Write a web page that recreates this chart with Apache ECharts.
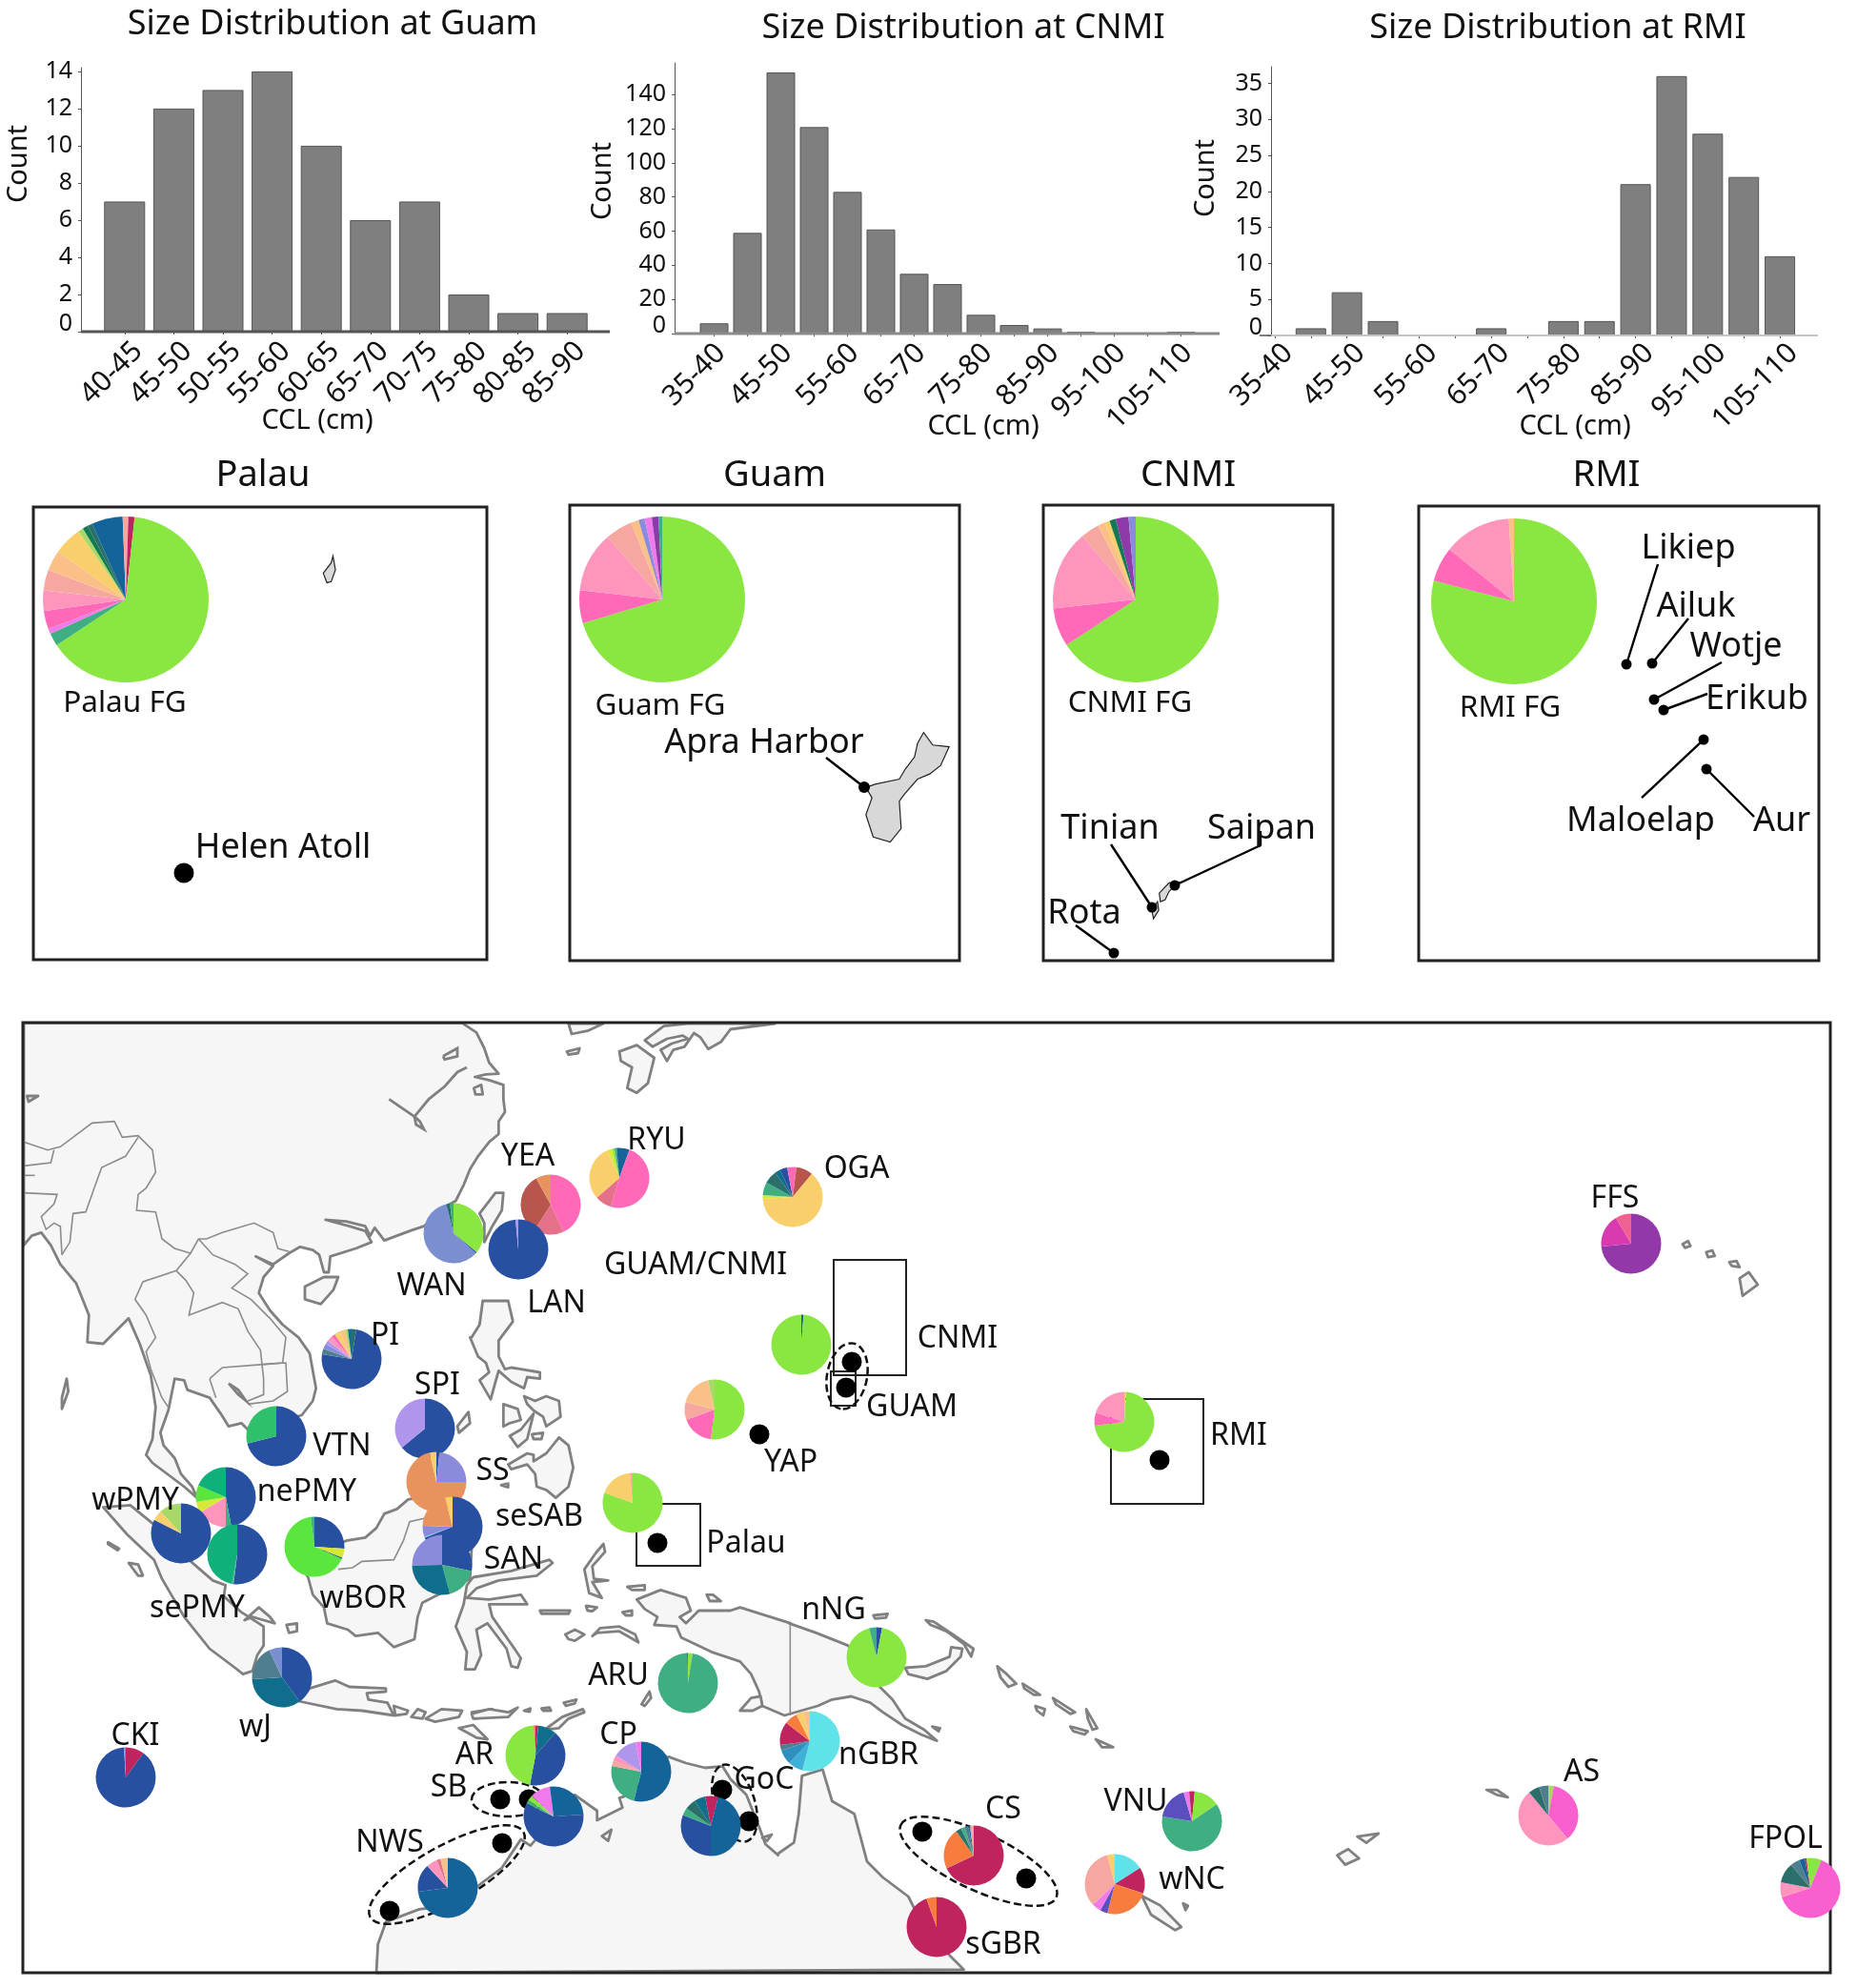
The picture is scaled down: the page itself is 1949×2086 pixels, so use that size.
<!DOCTYPE html>
<html>
<head>
<meta charset="utf-8">
<title>Size distribution and stock composition</title>
<script src="https://cdn.jsdelivr.net/npm/echarts@6/dist/echarts.min.js"></script>
<style>
html,body{margin:0;padding:0;background:#fff}
#chart{width:1949px;height:2086px}
</style>
</head>
<body>
<div id="chart"></div>
<script>
// ---- size histograms
var guamBins = ['40-45','45-50','50-55','55-60','60-65','65-70','70-75','75-80','80-85','85-90'];
var guamCounts = [7,12,13,14,10,6,7,2,1,1];
var cnmiBins = ['35-40','40-45','45-50','50-55','55-60','60-65','65-70','70-75','75-80','80-85','85-90','90-95','95-100','100-105','105-110'];
var cnmiCounts = [6,59,153,121,83,61,35,29,11,5,3,1,0,0,1];
var rmiBins = cnmiBins;
var rmiCounts = [0,1,6,2,0,0,1,0,2,2,21,36,28,22,11];

// ---- haplotype colours
var C = {
    lime:'#8ae640', hot:'#ff69b8', lpink:'#ff94bc', salmon:'#f5a7a0', peach:'#fbc088', yellow:'#f9cf6b',
    navy:'#2850a0', blue:'#14649a', teal:'#0f6e8c', sea:'#3fae82', emerald:'#0fb07a', purple:'#8e3aa8',
    peri:'#8b8bdb', lav:'#b095ec', orange:'#e8925e', crimson:'#c0245e', cyan:'#5fe3e8', coral:'#f97c3f',
    slate:'#7b8fd0', dteal:'#2a6f6a', dgreen:'#117a52', violet:'#f07aec', magenta:'#fa5fd0', rose:'#e4708a',
    brown:'#b8554d', ygreen:'#d8e83a', bgreen:'#5ae63c', lgreen:'#a8d868', steel:'#4f7f8f', sky:'#3fb0d8',
    mid:'#2f90c0', indigo:'#5b4fc0', dkmag:'#d83ab0', grape:'#9338a8', pinkr:'#f06090', egreen:'#2ec06a'
};

// ---- foraging ground pies
var palauFG = [['salmon',.5],['crimson',1.2],['lime',63.6],['sea',2.5],['violet',1],['hot',3.5],['lpink',4],['salmon',4],['peach',4],['yellow',5.5],['lgreen',1],['dgreen',1],['dteal',1],['blue',6],['salmon',.6]];
var guamFG = [['lime',70],['hot',6.4],['lpink',11.7],['salmon',5.3],['peach',1.5],['peri',1.2],['violet',1.4],['purple',1.3],['sea',.7]];
var cnmiFG = [['lime',65.6],['hot',7.5],['lpink',15.6],['salmon',3.6],['peach',1.4],['yellow',1],['dgreen',1.2],['purple',2.5],['peri',1.4]];
var rmiFG = [['lime',79],['hot',6.8],['lpink',13.2],['peach',1]];

// ---- rookery pies on the map
var WAN = [['lime',36],['navy',.7],['slate',59.4],['dteal',2],['sea',1.9]];
var YEA = [['hot',43],['rose',16],['brown',33],['orange',8]];
var RYU = [['blue',5.5],['hot',49],['rose',9],['yellow',30],['ygreen',2.5],['lime',1.4],['sea',1.2],['blue',1.4]];
var OGA = [['hot',2],['brown',9],['yellow',63],['ygreen',2],['sea',7],['dteal',7],['teal',3],['navy',4],['hot',3]];
var LAN = [['navy',98.5],['lav',1.5]];
var PI = [['dteal',2.5],['navy',75],['steel',3],['peri',3],['lav',2],['lpink',3],['hot',2],['yellow',3],['peach',3],['lgreen',1.5],['teal',2]];
var GUAMCNMI = [['blue',1.2],['lime',98.8]];
var YAPpie = [['lime',52],['hot',17.5],['salmon',9.5],['peach',17.5],['lgreen',3.5]];
var VTN = [['navy',71],['egreen',29]];
var SPI = [['navy',64],['lav',36]];
var SS = [['navy',1.7],['peri',23.3],['orange',71.4],['yellow',3.6]];
var nePMY = [['navy',47],['sea',3],['lpink',16.5],['ygreen',6],['bgreen',9],['emerald',18.5]];
var wPMY = [['navy',82.5],['yellow',5.5],['lgreen',12]];
var sePMY = [['navy',52],['sea',1],['emerald',47]];
var wBOR = [['navy',26],['ygreen',5],['dteal',.8],['bgreen',66.2],['sea',2]];
var seSAB = [['navy',69],['cyan',.5],['peri',6],['orange',20.5],['yellow',4]];
var SAN = [['navy',28.3],['sea',17.5],['teal',29],['peri',25.2]];
var PalauPie = [['lime',80.5],['yellow',18],['salmon',1.5]];
var wJ = [['navy',40],['teal',34],['steel',19],['slate',7]];
var CKI = [['crimson',10],['navy',89],['slate',1]];
var ARU = [['lime',2.5],['sea',97],['dteal',.5]];
var nNG = [['navy',3],['lime',93],['sea',4]];
var AR = [['crimson',1.5],['teal',10],['navy',41.5],['lime',46],['coral',1]];
var CP = [['blue',54],['sea',24],['salmon',3],['lpink',3],['lav',13],['violet',3]];
var nGBR = [['cyan',54],['sky',8],['mid',8],['steel',3],['crimson',12.5],['coral',7],['yellow',4],['peach',3.5]];
var SBpie = [['blue',24],['navy',58],['sea',2],['lime',3],['violet',11],['blue',2]];
var GoCpie = [['crimson',4],['blue',46],['navy',31],['sea',4],['dteal',6],['teal',6],['crimson',3]];
var NWSpie = [['blue',73],['navy',15],['lpink',6],['rose',2],['peach',4]];
var sGBR = [['crimson',94.5],['coral',5.5]];
var CS = [['crimson',68],['coral',22],['dteal',3],['sea',2],['steel',2],['blue',1],['salmon',2]];
var wNC = [['cyan',16],['crimson',14],['coral',24],['indigo',4],['violet',5],['salmon',33],['yellow',4]];
var VNU = [['crimson',1.5],['lime',14],['sea',62],['indigo',18],['violet',3],['crimson',1.5]];
var AS = [['lgreen',3],['magenta',36],['lpink',50],['dteal',6],['steel',5]];
var FPOL = [['lime',6],['magenta',64],['lpink',8],['dteal',11],['steel',5],['blue',3],['crimson',1],['lime',2]];
var FFS = [['grape',73.5],['dkmag',18],['pinkr',8.5]];
var RMIpie = [['peach',1],['lime',72],['hot',7],['lpink',20]];

// name, slices, centre x, centre y, radius - draw order matters, later ones sit on top
var pieSites = [
    ['Palau FG',palauFG,132,629,87],['Guam FG',guamFG,695,629,87],['CNMI FG',cnmiFG,1192,629,87],['RMI FG',rmiFG,1589,631,87],
    ['WAN',WAN,476,1294,31.5],['YEA',YEA,578,1264,31.5],['LAN',LAN,544,1311,31.5],['RYU',RYU,650,1236,31.5],['OGA',OGA,832,1256,31.5],
    ['PI',PI,369,1426,31.5],['GUAM/CNMI',GUAMCNMI,841,1411,31.5],['YAP',YAPpie,750,1479,31.5],['VTN',VTN,290,1507,31.5],
    ['SPI',SPI,446,1499,31.5],['SS',SS,458,1555,31.5],['nePMY',nePMY,237,1571,31.5],['wPMY',wPMY,190,1609,31.5],['sePMY',sePMY,249,1631,31.5],
    ['wBOR',wBOR,330,1623,31.5],['seSAB',seSAB,475,1602,31.5],['SAN',SAN,464,1642,31.5],['Palau',PalauPie,664,1577,31.5],
    ['wJ',wJ,296,1760,31.5],['CKI',CKI,132,1865,31.5],['ARU',ARU,722,1766,31.5],['nNG',nNG,920,1739,31.5],['AR',AR,562,1842,31.5],
    ['CP',CP,673,1859,31.5],['nGBR',nGBR,850,1827,31.5],['SB',SBpie,581,1906,31.5],['GoC',GoCpie,746,1916,31.5],['NWS',NWSpie,470,1981,31.5],
    ['sGBR',sGBR,983,2022,31.5],['CS',CS,1022,1947,31.5],['wNC',wNC,1170,1977,31.5],['VNU',VNU,1251,1911,31.5],['AS',AS,1625,1905,31.5],
    ['FPOL',FPOL,1900,1981,31.5],['FFS',FFS,1712,1305,31.5],['RMI',RMIpie,1180,1492,31.5]
];

function crop(x0,y0,sx,sy){
    return function(p){ return p.map(function(a){ return [x0+a[0]/sx, y0+a[1]/(sy||sx)]; }); };
}
var cA = crop(20,1070,3), cB = crop(420,1070,3), cC = crop(440,1390,3), cD = crop(80,1560,3), cE = crop(400,1640,3), cF = crop(780,1650,3);
var cI = crop(950,1060,1.57,1.528), cP = crop(0,480,1.568,2.8), cQ = crop(1000,480,1.652,2.8);

var landShapes = [
    // mainland Asia
    cA([[15,10],[1395,10],[1440,40],[1465,90],[1480,135],[1510,170],[1470,172],[1435,180],[1480,190],[1525,205],[1525,250],[1530,290],[1510,320],[1510,360],[1480,385],[1445,430],[1420,470],[1400,520],[1375,570],[1340,590],[1275,650],[1230,665],[1150,695],[1120,655],[1105,680],[1090,650],[1030,635],[965,630],[1040,650],[1090,665],[1110,700],[1060,720],[980,745],[975,795],[960,795],[945,740],[925,725],[885,715],[850,735],[800,770],[745,745],[800,775],[770,810],[755,860],[790,915],[830,960],[880,1000],[915,1050],[935,1160],[925,1200],[890,1245],[720,1290],[700,1270],[660,1280],[635,1240],[600,1190],[530,1165],[520,1135],[490,1130],[470,1230],[445,1300],[455,1340],[490,1380],[510,1430],[545,1470],[560,1505],[520,1470],[420,1395],[400,1370],[420,1320],[430,1220],[415,1120],[380,1020],[345,940],[300,985],[265,1020],[215,1015],[220,930],[200,880],[180,830],[130,770],[100,710],[70,670],[40,680],[15,710]]),
    cA([[900,840],[960,810],[1005,810],[990,850],[950,895],[900,880]]),
    cA([[25,240],[60,240],[30,258]]),
    cA([[150,1130],[155,1170],[135,1225],[135,1190]]),
    cA([[1432,215],[1455,205],[1460,235],[1437,235]]),
    // Taiwan, Korea tip, Japan
    cB([[250,610],[300,545],[325,545],[320,600],[290,650],[265,700],[265,640]]),
    cB([[530,12],[640,12],[590,35],[540,45]]),
    cB([[525,100],[565,90],[560,105],[530,110]]),
    cB([[770,65],[830,20],[905,12],[1180,12],[1040,30],[1010,70],[970,92],[945,55],[925,42],[895,85],[860,95],[840,130],[820,95],[855,75],[905,60],[890,50],[840,60],[795,85]]),
    cB([[690,100],[745,80],[800,120],[780,200],[745,230],[715,215],[730,150],[695,130]]),
    // Philippines
    cB([[260,885],[340,885],[355,950],[310,1010],[310,1060],[330,1100]]).concat(cC([[290,135],[320,140],[380,150],[380,170],[340,165],[330,200],[290,180],[250,145],[240,180],[225,235],[190,175],[220,150],[210,120],[185,100],[160,40]])).concat(cB([[225,1000],[250,960]])),
    cC([[330,225],[365,240],[400,225],[440,240],[445,290],[400,320],[390,290],[360,270],[340,250]]),
    cC([[265,250],[310,265],[320,300],[285,310],[265,320]]),
    cC([[285,350],[320,330],[360,280],[350,320],[340,360],[310,385]]),
    cC([[355,345],[390,340],[385,360],[360,360]]),
    cC([[280,440],[340,405],[360,410],[360,430],[400,405],[440,355],[470,380],[485,450],[470,510],[430,545],[400,520],[370,510],[365,470],[340,440],[290,455]]),
    cC([[258,505],[280,500],[280,512]]),
    cC([[120,320],[155,275],[160,310],[125,340]]),
    // Borneo
    cD([[700,240],[850,170],[910,160],[945,130],[970,85],[1010,70],[1045,40],[1100,30],[1250,100],[1240,290],[1140,340],[1090,365],[1075,410],[1065,480],[1000,505],[950,460],[880,470],[855,450],[790,430],[780,380],[745,340],[730,285]]),
    // Sumatra and neighbours
    cD([[85,65],[170,58],[240,115],[320,200],[430,295],[470,310],[465,345],[520,395],[590,440],[590,500],[570,530],[555,580],[525,590],[500,570],[420,510],[340,410],[270,290],[245,230],[160,150]]),
    cD([[100,175],[135,195],[130,200],[100,180]]),
    cD([[165,240],[195,245],[210,280],[195,280]]),
    cD([[530,420],[575,380],[610,410],[625,430],[590,420],[555,410]]),
    cD([[662,435],[695,430],[695,455],[670,460]]),
    // Java and the Lesser Sundas
    cD([[735,635],[815,610],[860,630],[975,635],[975,645],[915,650],[920,670],[980,680],[1000,720],[900,705],[820,700],[700,675]]),
    cD([[1000,690],[1045,705],[1040,715],[1005,720]]),
    cD([[1055,725],[1075,700],[1100,710],[1090,730]]),
    cD([[1100,730],[1150,700],[1215,705],[1205,725],[1130,740]]),
    cD([[1245,710],[1310,700],[1320,720],[1255,730]]),
    cE([[285,475],[340,460],[400,470],[430,455],[400,485],[290,490]]),
    cE([[450,465],[470,458],[468,468]]),
    cE([[505,458],[530,455],[535,465],[510,465]]),
    cE([[575,440],[615,430],[610,442],[582,450]]),
    cE([[515,525],[570,485],[635,460],[640,470],[590,490],[560,520]]),
    cE([[245,520],[290,510],[335,555],[300,550]]),
    // Sulawesi, Moluccas
    cC([[170,795],[290,775],[410,740],[420,750],[370,790],[250,805],[180,830]]).concat(cE([[270,110],[340,115],[440,100],[460,130],[400,130],[340,130],[350,170],[420,270],[440,300],[430,330],[410,325],[395,270],[335,190],[300,210],[315,290],[295,335],[265,335],[270,280],[235,200],[260,130],[270,70]])),
    cC([[555,720],[580,690],[585,715],[545,760],[550,800],[595,805],[545,810],[575,860],[535,845],[520,770]]),
    cE([[500,150],[595,150],[590,160],[505,160]]),
    cE([[645,135],[680,140],[665,152],[650,150]]),
    cE([[580,225],[610,210],[640,225],[610,245],[590,240]]),
    cE([[665,230],[690,205],[750,200],[800,225],[810,250],[750,215],[680,220]]),
    cE([[760,155],[790,150],[790,165],[770,165]]),
    cE([[775,75],[830,70],[830,85],[790,85]]),
    cE([[1025,100],[1045,100],[1070,120],[1035,120]]),
    // New Guinea
    cE([[805,115],[880,85],[960,110],[975,150],[940,170],[960,190],[1000,150],[1100,150],[1130,140],[1290,190]]).concat(cF([[145,160],[230,190],[330,230],[430,360],[470,400],[510,460],[570,495],[610,530],[560,510],[500,480],[440,440],[400,410],[340,390],[280,400],[235,420],[130,450]])).concat(cE([[1200,450],[1190,405],[1165,350],[1130,310],[1040,280],[945,235],[930,200],[860,195],[870,170],[830,145]])),
    cE([[1130,465],[1165,425],[1195,420],[1200,450],[1170,465]]),
    cE([[820,445],[845,405],[850,425],[830,450]]),
    // Australia
    cE([[-15,1290],[-10,1200],[15,1130],[120,1090],[200,1080],[300,1020],[380,960],[440,870],[470,890],[610,730],[680,780],[680,810],[760,770],[750,740],[780,730],[905,610],[960,630],[1020,645],[1075,640],[1100,680],[1150,730],[1190,830],[1210,885],[1250,920]]).concat(cF([[110,885],[160,850],[175,760],[185,640],[250,620],[280,720],[350,760],[390,910],[440,960],[520,1020],[560,1100],[650,1205],[695,1250]])),
    cE([[695,860],[725,840],[715,875]]),
    cF([[60,835],[90,825],[75,845]]),
    // Bismarck and Solomon islands
    cF([[575,150],[600,155],[660,195],[725,240],[718,265],[695,225],[640,185],[590,165]]),
    cF([[510,300],[575,295],[650,265],[655,235],[690,240],[685,265],[640,310],[580,335],[520,320]]),
    cF([[410,135],[455,130],[450,142],[415,145]]),
    cF([[595,485],[620,490],[615,500]]),
    cF([[800,295],[830,320],[860,350],[835,360],[810,330]]),
    cF([[880,350],[935,385],[915,385],[885,365]]),
    cF([[975,395],[1045,440],[1030,445],[985,415]]),
    cF([[920,420],[950,430],[945,450],[925,435]]),
    cF([[1080,430],[1115,490],[1100,495],[1085,460]]),
    cF([[1030,485],[1085,500],[1075,510],[1040,500]]),
    cF([[1110,525],[1165,550],[1130,550]]),
    // Hawaii, Fiji, Samoa, New Caledonia
    cI([[1281,375],[1290,370],[1294,378],[1285,381]]),cI([[1320,388],[1330,385],[1334,394],[1323,396]]),cI([[1358,404],[1370,402],[1375,412],[1362,410]]),
    cI([[1375,430],[1390,420],[1405,440],[1380,458]]),
    cI([[712,1355],[730,1345],[748,1360],[725,1370]]),cI([[745,1325],[780,1320],[760,1335]]),cI([[958,1250],[975,1250],[993,1262],[975,1258]]),
    cI([[390,1420],[420,1435],[455,1470],[445,1475],[405,1450]]),cI([[458,1432],[466,1436],[462,1443]])
];
// country borders inside the land
var borderLines = [
    cA([[15,385],[90,410],[130,400],[230,325],[300,320],[325,370],[375,365],[420,410],[430,480],[400,530],[375,550],[370,600],[430,605],[450,690],[490,720],[540,735],[565,690],[590,690],[640,670],[740,640],[800,670],[815,720],[850,730]]),
    cA([[15,460],[100,450],[110,410]]),
    cA([[15,490],[50,490]]),
    cA([[15,545],[120,550],[110,580],[70,620],[85,660],[110,640],[130,650],[135,740]]),
    cA([[135,740],[160,700],[170,610],[210,605],[235,535],[260,465],[335,430],[375,370]]),
    cA([[540,735],[495,790],[390,825],[365,880],[400,930],[430,1000],[400,1045],[415,1100],[450,1190],[470,1220]]),
    cA([[565,690],[610,740],[680,770],[720,800],[670,845],[730,880],[790,940],[840,1000],[830,1080],[770,1085]]),
    cA([[495,790],[525,820],[550,860],[535,930],[640,890],[690,910],[720,980],[760,1040],[770,1130],[770,1180],[720,1200]]),
    cA([[600,1130],[640,1095],[770,1085],[840,1080],[845,1170],[800,1200],[720,1210]]),
    cA([[600,1130],[620,1190]]),
    cD([[825,260],[870,255],[900,235],[1000,230],[1030,170],[1050,110],[1095,100]]),
    cF([[148,165],[148,450]])
];
var riverLines = [
    cA([[1165,250],[1245,305],[1290,250],[1340,210],[1380,165],[1410,150]]),
    cA([[1245,305],[1250,330],[1275,345],[1262,320],[1245,305]]),
    cA([[1335,115],[1380,90],[1380,115],[1340,125],[1335,115]]),
    cA([[660,1145],[690,1165],[715,1200],[690,1180],[660,1145]])
];
var insetIslands = [
    cP([[548,290],[552,330],[545,365],[538,368],[532,340],[545,310]]),
    cP([[1520,808],[1535,845],[1562,850],[1548,905],[1530,930],[1510,945],[1488,990],[1480,1010],[1483,1090],[1465,1130],[1437,1115],[1425,1050],[1435,1000],[1425,970],[1440,960],[1480,945],[1490,915],[1505,880],[1510,840]]),
    cQ([[360,1305],[358,1280],[375,1250],[392,1248],[375,1275],[368,1300]]),
    cQ([[348,1355],[345,1330],[355,1305],[357,1330]])
];

// ---- inset frames and map boxes: x0, y0, x1, y1
var insetFrames = [[35,532,511,1007],[598,530,1007,1008],[1095,530,1399,1008],[1489,531,1909,1008],[24,1073,1921,2070]];
var mapBoxes = [[875,1322,951,1443],[872,1439,898,1475],[668,1578,735,1643],[1166,1468,1263,1578]];
// dashed groupings: cx, cy, rx, ry, rotation in degrees
var dashedGroups = [[533,1888,38,18,0],[771,1892,42,21,-72],[469,1967,92,30,29],[1027,1953,90,30,-25],[889,1444,35,21,79]];
// sampling sites
var mapDots = [[894,1429],[888,1456],[797,1505],[690,1619],[525,1888],[555,1888],[758,1878],[786,1911],[527,1934],[409,2005],[968,1922],[1077,1971],[1217,1532]];
var insetDots = [[193,916,21],[907,826,12],[1209,952,11],[1233,929,11],[1169,1000,11],[1707,697,11],[1734,696,11],[1736,734,11],[1746,745,11],[1788,776,11],[1791,807,11]];
var leaderLines = [
    [[867,795],[907,826]],
    [[1166,886],[1209,952]],
    [[1323,872],[1323,887],[1233,929]],
    [[1129,971],[1169,1000]],
    [[1740,592],[1707,697]],[[1772,649],[1734,696]],[[1807,695],[1736,734]],[[1792,728],[1746,745]],[[1723,837],[1788,776]],[[1841,857],[1791,807]]
];
// long x axes of the histograms run past the bars
var baseLines = [[[85,348],[640,348],'#555',3],[[708,350],[1280,350],'#8a8a8a',3],[[1334,352],[1908,352],'#c4c4c4',2]];

// ---- free text: string, x, y, size, rotation
var font = '"Noto Sans"';
var axisTexts = [
    ['Count',20,172,29,90],['Count',633,190,29,90],['Count',1266,187,29,90],
    ['CCL (cm)',333,442,29,0],['CCL (cm)',1032,448,29,0],['CCL (cm)',1653,448,29,0]
];
var insetTexts = [
    ['Palau FG',131,738,31.5],['Guam FG',693,741,31.5],['CNMI FG',1186,738,31.5],['RMI FG',1585,743,31.5],
    ['Helen Atoll',297,890,36],['Apra Harbor',802,780,36],['Tinian',1165,870,36],['Saipan',1324,870,36],['Rota',1138,959,36],
    ['Likiep',1772,576,36],['Ailuk',1780,637,36],['Wotje',1822,679,36],['Erikub',1844,734,36],['Maloelap',1722,862,36],['Aur',1870,862,36]
];
var mapTexts = [
    ['YEA',554,1214],['RYU',689,1197],['OGA',899,1227],['GUAM/CNMI',730,1328],['WAN',453,1350],['LAN',584,1368],['PI',404,1402],
    ['CNMI',1005,1405],['GUAM',957,1477],['SPI',459,1454],['VTN',359,1518],['YAP',830,1535],['SS',517,1544],['nePMY',322,1566],
    ['wPMY',142,1575],['seSAB',566,1592],['Palau',783,1620],['SAN',539,1637],['sePMY',207,1688],['wBOR',381,1678],['nNG',875,1690],
    ['ARU',649,1759],['wJ',268,1813],['CKI',142,1822],['AR',498,1842],['CP',649,1821],['nGBR',922,1842],['SB',471,1876],['GoC',802,1868],
    ['NWS',409,1934],['FFS',1695,1258],['RMI',1300,1507],['CS',1053,1899],['VNU',1192,1891],['wNC',1251,1973],['sGBR',1053,2041],
    ['AS',1660,1860],['FPOL',1874,1930]
];
var chartTitles = [
    ['Size Distribution at Guam',349,3,36],['Size Distribution at CNMI',1011,7,36],['Size Distribution at RMI',1635,7,36],
    ['Palau',276,475,38],['Guam',813,475,38],['CNMI',1247,475,38],['RMI',1686,475,38]
];

var chart = echarts.init(document.getElementById('chart'), null, {renderer:'canvas'});

function histGrid(left,width,top,bottom){ return {left:left,width:width,top:top,height:bottom-top}; }
// shiftAlong moves rotated labels along their own slant, margin moves them down
function histX(idx,bins,interval,shiftAlong,margin){
    return {type:'category',gridIndex:idx,data:bins,
        axisLine:{show:false},axisTick:{show:true,length:3,lineStyle:{color:'#555'},alignWithLabel:true,interval:0},
        axisLabel:{interval:interval,rotate:45,fontSize:30,fontFamily:font,color:'#111',margin:margin,padding:[0,-shiftAlong,0,0]}};
}
function histY(idx,max,step,off){
    return {type:'value',gridIndex:idx,min:0,max:max,interval:step,offset:off,splitLine:{show:false},
        axisLine:{show:true,lineStyle:{color:'#555',width:1}},
        axisTick:{show:true,length:3,lineStyle:{color:'#555'}},
        // small lineHeight keeps the raised 0 from knocking out its neighbour
        axisLabel:{fontSize:25,lineHeight:16,fontFamily:font,color:'#111',margin:9,showMinLabel:true,showMaxLabel:false,verticalAlignMinLabel:'bottom',
            formatter:function(v){return v%step===0?v:'';}}};
}
function histBar(idx,vals,w){
    return {type:'bar',xAxisIndex:idx,yAxisIndex:idx,data:vals,barWidth:w,silent:true,
        itemStyle:{color:'#7f7f7f',borderColor:'#555',borderWidth:1}};
}

var overlay = {coordinateSystem:'cartesian2d',xAxisIndex:3,yAxisIndex:3,silent:true,animation:false};
function shapeSeries(list,z,style,type){
    return Object.assign({},overlay,{type:'custom',z:z,clip:false,data:list.map(function(p){return p[0];}),
        renderItem:function(params,api){
            var pts = list[params.dataIndex].map(function(a){return api.coord(a);});
            return {type:type,shape:{points:pts},style:style};
        }});
}
function lineSeg(pts,color,w,z){
    return Object.assign({},overlay,{type:'line',z:z,data:pts,symbol:'none',lineStyle:{color:color,width:w}});
}

var series = [
    histBar(0,guamCounts,43),histBar(1,cnmiCounts,30),histBar(2,rmiCounts,32),
    shapeSeries(landShapes,1,{fill:'#f6f6f6',stroke:'#808080',lineWidth:2.8,lineJoin:'round'},'polygon'),
    shapeSeries(borderLines,1,{fill:null,stroke:'#8c8c8c',lineWidth:1.6},'polyline'),
    shapeSeries(riverLines,1,{fill:null,stroke:'#808080',lineWidth:2.8},'polyline'),
    shapeSeries(insetIslands,2,{fill:'#d8d8d8',stroke:'#222',lineWidth:1.2},'polygon'),
    // frames
    Object.assign({},overlay,{type:'custom',z:2,clip:false,data:insetFrames.concat(mapBoxes).map(function(b){return [b[0],b[1]];}),
        renderItem:function(params,api){
            var b = insetFrames.concat(mapBoxes)[params.dataIndex];
            var a0 = api.coord([b[0],b[1]]), a1 = api.coord([b[2],b[3]]);
            var thick = params.dataIndex<insetFrames.length ? 3 : 2;
            return {type:'rect',shape:{x:a0[0],y:a0[1],width:a1[0]-a0[0],height:a1[1]-a0[1]},style:{fill:null,stroke:'#222',lineWidth:thick}};
        }}),
    // dashed rings
    Object.assign({},overlay,{type:'custom',z:2,clip:false,data:dashedGroups.map(function(d){return [d[0],d[1]];}),
        renderItem:function(params,api){
            var d = dashedGroups[params.dataIndex], c = api.coord([d[0],d[1]]);
            return {type:'ellipse',x:c[0],y:c[1],rotation:d[4]*Math.PI/180,shape:{cx:0,cy:0,rx:d[2],ry:d[3]},
                style:{fill:null,stroke:'#111',lineWidth:2.5,lineDash:[8,4]}};
        }}),
    Object.assign({},overlay,{type:'scatter',z:2,data:mapDots,symbol:'circle',symbolSize:21,itemStyle:{color:'#000',opacity:1}}),
    Object.assign({},overlay,{type:'scatter',z:4,data:insetDots,symbol:'circle',symbolSize:function(v){return v[2];},itemStyle:{color:'#000',opacity:1}})
];
leaderLines.forEach(function(l){ series.push(lineSeg(l,'#000',2.4,3)); });
baseLines.forEach(function(l){ series.push(lineSeg([l[0],l[1]],l[2],l[3],2)); });
pieSites.forEach(function(s){
    series.push({type:'pie',name:s[0],center:[s[2],s[3]],radius:[0,s[4]],startAngle:90,clockwise:true,z:3,silent:true,animation:false,
        label:{show:false},labelLine:{show:false},emphasis:{disabled:true},
        data:s[1].map(function(d,i){return {name:d[0]+i,value:d[1],itemStyle:{color:C[d[0]]}};})});
});

function textEl(t,size,fam){
    return {type:'text',x:t[1],y:t[2],z:10,rotation:t[4]?t[4]*Math.PI/180:0,silent:true,
        style:{text:t[0],fill:'#111',font:size+'px '+fam,textAlign:'center',textVerticalAlign:'middle',align:'center',verticalAlign:'middle'}};
}
var graphics = [];
axisTexts.forEach(function(t){ graphics.push(textEl(t,t[3],font)); });
insetTexts.forEach(function(t){ graphics.push(textEl(t,t[3],font)); });
mapTexts.forEach(function(t){ graphics.push(textEl(t,32,font)); });

chart.setOption({
    animation:false,
    backgroundColor:'#fff',
    title:chartTitles.map(function(t){
        // title box has 5px padding, so the centre sits 5px right of left
        return {text:t[0],left:t[1]-5,top:t[2],textAlign:'center',textStyle:{fontFamily:font,fontWeight:'normal',fontSize:t[3],color:'#111'}};
    }),
    grid:[histGrid(105,516,71,348),histGrid(732,525,66,350),histGrid(1319,568,70,352),{left:0,top:0,width:1949,height:2086}],
    xAxis:[histX(0,guamBins,0,20,30),histX(1,cnmiBins,1,10,23),histX(2,rmiBins,1,20,28),{type:'value',gridIndex:3,min:0,max:1949,show:false}],
    yAxis:[histY(0,14.2,2,20),histY(1,158.6,20,24),histY(2,37.3,5,-15),{type:'value',gridIndex:3,min:0,max:2086,inverse:true,show:false}],
    series:series,
    graphic:{elements:graphics}
});
</script>
</body>
</html>
